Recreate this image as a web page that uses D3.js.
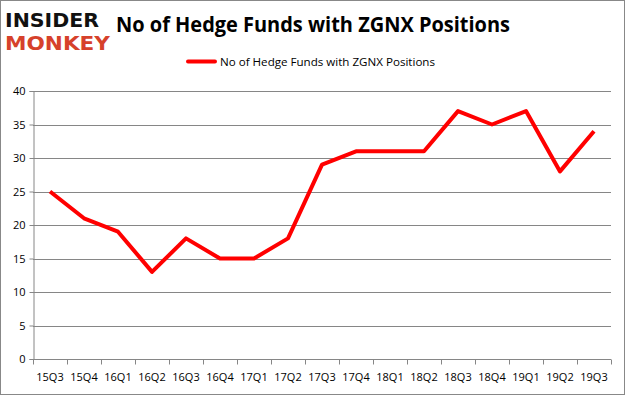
<!DOCTYPE html>
<html>
<head>
<meta charset="utf-8">
<script src="https://cdn.jsdelivr.net/npm/d3@7"></script>
<style>
  html, body { margin: 0; padding: 0; background: #fff; }
  svg { display: block; }
</style>
</head>
<body>
<svg id="chart"></svg>
<script>
const quarters = ['15Q3', '15Q4', '16Q1', '16Q2', '16Q3', '16Q4', '17Q1', '17Q2', '17Q3',
                  '17Q4', '18Q1', '18Q2', '18Q3', '18Q4', '19Q1', '19Q2', '19Q3'];
const funds = [25, 21, 19, 13, 18, 15, 15, 18, 29, 31, 31, 31, 37, 35, 37, 28, 34];
const yTicks = [0, 5, 10, 15, 20, 25, 30, 35, 40];
const seriesName = 'No of Hedge Funds with ZGNX Positions';

const width = 625;
const height = 395;
const margin = { top: 91, right: 14, bottom: 36, left: 33 };

const svg = d3.select('#chart')
    .attr('width', width)
    .attr('height', height)
    .style('font-family', '"Open Sans", sans-serif');

// outer frame
svg.append('rect')
    .attr('x', 0.5).attr('y', 0.5)
    .attr('width', width - 1).attr('height', height - 1)
    .attr('fill', '#fff')
    .attr('stroke', '#888');

const x = d3.scaleBand()
    .domain(quarters)
    .range([margin.left, width - margin.right]);

const y = d3.scaleLinear()
    .domain([0, 40])
    .range([height - margin.bottom, margin.top]);

// gridlines
svg.append('g')
    .selectAll('line')
    .data(yTicks.filter(d => d > 0))
    .enter().append('line')
    .attr('x1', margin.left)
    .attr('x2', width - margin.right)
    .attr('y1', d => Math.round(y(d)) + 0.5)
    .attr('y2', d => Math.round(y(d)) + 0.5)
    .attr('stroke', '#868686')
    .attr('stroke-width', 1);

// y axis
const yAxis = svg.append('g')
    .attr('transform', `translate(${margin.left + 0.5},0)`)
    .call(d3.axisLeft(y).tickValues(yTicks).tickSize(4).tickPadding(4));
yAxis.selectAll('text').attr('font-size', 11).attr('fill', '#000')
    .attr('font-family', '"Open Sans", sans-serif');
yAxis.selectAll('line, path').attr('stroke', '#868686');

// x axis, ticks on category boundaries
const xAxis = svg.append('g')
    .attr('transform', `translate(0,${Math.round(y(0)) + 0.5})`);
xAxis.append('line')
    .attr('x1', margin.left).attr('x2', width - margin.right)
    .attr('stroke', '#868686');
xAxis.selectAll('.tick')
    .data(quarters.concat(['end']))
    .enter().append('line')
    .attr('x1', (d, i) => Math.round(i < quarters.length ? x(d) : x.range()[1]) + 0.5)
    .attr('x2', (d, i) => Math.round(i < quarters.length ? x(d) : x.range()[1]) + 0.5)
    .attr('y1', 0).attr('y2', 5)
    .attr('stroke', '#868686');
xAxis.selectAll('text')
    .data(quarters)
    .enter().append('text')
    .attr('x', d => x(d) + x.bandwidth() / 2)
    .attr('y', 21)
    .attr('text-anchor', 'middle')
    .attr('font-size', 11)
    .text(d => d);

// line
const line = d3.line()
    .x((d, i) => x(quarters[i]) + x.bandwidth() / 2)
    .y(d => y(d));

svg.append('path')
    .datum(funds)
    .attr('d', line)
    .attr('fill', 'none')
    .attr('stroke', '#ff0000')
    .attr('stroke-width', 4)
    .attr('stroke-linejoin', 'round');

// title
svg.append('text')
    .attr('x', 116)
    .attr('y', 32)
    .attr('font-size', 21)
    .attr('font-weight', 'bold')
    .attr('textLength', 394)
    .attr('lengthAdjust', 'spacingAndGlyphs')
    .text('No of Hedge Funds with ZGNX Positions');

// legend
svg.append('line')
    .attr('x1', 188).attr('x2', 215)
    .attr('y1', 61.5).attr('y2', 61.5)
    .attr('stroke', '#ff0000')
    .attr('stroke-width', 4)
    .attr('stroke-linecap', 'round');
svg.append('text')
    .attr('x', 220)
    .attr('y', 65.5)
    .attr('font-size', 11)
    .attr('textLength', 215)
    .attr('lengthAdjust', 'spacingAndGlyphs')
    .text(seriesName);

// logo
svg.append('text')
    .attr('x', 5).attr('y', 27)
    .attr('font-size', 19)
    .attr('font-weight', 900)
    .attr('font-family', '"DejaVu Sans", sans-serif')
    .attr('textLength', 94)
    .attr('lengthAdjust', 'spacingAndGlyphs')
    .attr('fill', '#111')
    .text('INSIDER');
svg.append('text')
    .attr('x', 5).attr('y', 50)
    .attr('font-size', 19)
    .attr('font-weight', 900)
    .attr('font-family', '"DejaVu Sans", sans-serif')
    .attr('textLength', 105)
    .attr('lengthAdjust', 'spacingAndGlyphs')
    .attr('fill', '#d6412b')
    .text('MONKEY');
</script>
</body>
</html>
